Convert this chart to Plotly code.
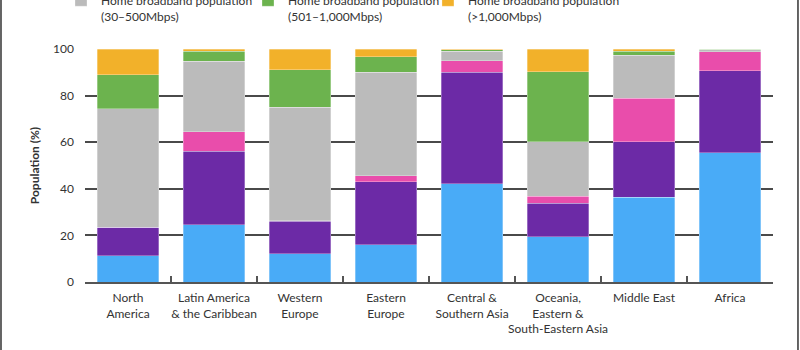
import plotly.graph_objects as go

categories = [
    "North<br>America",
    "Latin America<br>& the Caribbean",
    "Western<br>Europe",
    "Eastern<br>Europe",
    "Central &<br>Southern Asia",
    "Oceania,<br>Eastern &<br>South-Eastern Asia",
    "Middle East",
    "Africa",
]

series_names = [
    "Population segment 1",
    "Population segment 2",
    "Population segment 3",
    "Home broadband population<br>(30–500Mbps)",
    "Home broadband population<br>(501–1,000Mbps)",
    "Home broadband population<br>(>1,000Mbps)",
]

blue_vals = [11.3, 24.6, 12.2, 15.9, 42.2, 19.5, 36.3, 55.4]
purple_vals = [12.2, 31.6, 13.8, 27.2, 47.8, 14.4, 23.9, 35.2]
pink_vals = [0.0, 8.3, 0.3, 2.4, 5.0, 3.0, 18.6, 8.3]
gray_vals = [50.9, 30.2, 48.7, 44.5, 4.0, 23.2, 18.5, 0.7]
green_vals = [14.6, 4.3, 16.1, 6.6, 0.7, 30.2, 1.7, 0.3]
orange_vals = [11.0, 1.0, 8.9, 3.4, 0.3, 9.7, 1.0, 0.1]

y_ticks = [0, 20, 40, 60, 80, 100]

colors = ["#49ABF7", "#6C2AA6", "#E94DAB", "#BBBBBB", "#6CB34E", "#F2B12A"]
all_vals = [blue_vals, purple_vals, pink_vals, gray_vals, green_vals, orange_vals]
show = [False, False, False, True, True, True]
legend_ids = ["legend", "legend", "legend", "legend", "legend2", "legend3"]

fig = go.Figure()
for name, vals, col, sh, lg in zip(series_names, all_vals, colors, show, legend_ids):
    fig.add_trace(go.Bar(
        x=categories, y=vals, name=name,
        marker=dict(color=col, line=dict(color="rgba(255,255,255,0.6)", width=0.5)),
        showlegend=sh, legend=lg,
    ))

FONT = "Lato, 'Open Sans', sans-serif"


def legend_at(xp):
    return dict(
        orientation="h",
        x=xp, xanchor="left",
        y=1.2706, yanchor="top",
        valign="top",
        bgcolor="rgba(0,0,0,0)",
        font=dict(size=12, color="#333333"),
        itemclick=False, itemdoubleclick=False,
    )


fig.update_layout(
    barmode="stack",
    bargap=0.28,
    width=800, height=350,
    margin=dict(l=85, r=27, t=49, b=68, autoexpand=False),
    paper_bgcolor="white",
    plot_bgcolor="white",
    font=dict(family=FONT, size=12, color="#333333"),
    legend=legend_at(-0.0349),
    legend2=legend_at(0.2369),
    legend3=legend_at(0.4985),
    xaxis=dict(
        showline=True, linecolor="#555555", linewidth=1.5,
        ticks="inside", tickson="boundaries", ticklen=6,
        tickcolor="#555555", tickwidth=1.5,
        tickangle=0, ticklabelstandoff=4,
        showgrid=False,
        tickfont=dict(size=12, color="#333333"),
    ),
    yaxis=dict(
        range=[0, 100],
        tickvals=y_ticks,
        showgrid=True, gridcolor="#4a4a4a", gridwidth=1.5,
        zeroline=False,
        ticks="", ticklabelstandoff=10,
        tickfont=dict(size=12, color="#333333"),
        title=dict(text="<b>Population (%)</b>", font=dict(size=12, color="#333333"), standoff=10),
    ),
    shapes=[
        dict(type="line", xref="paper", yref="paper",
             x0=-0.1221, x1=-0.1221, y0=-0.30, y1=1.22,
             line=dict(color="#333333", width=1.5)),
        dict(type="line", xref="paper", yref="paper",
             x0=1.0363, x1=1.0363, y0=-0.30, y1=1.22,
             line=dict(color="#333333", width=1.5)),
    ],
)

fig.write_html("out.html")
